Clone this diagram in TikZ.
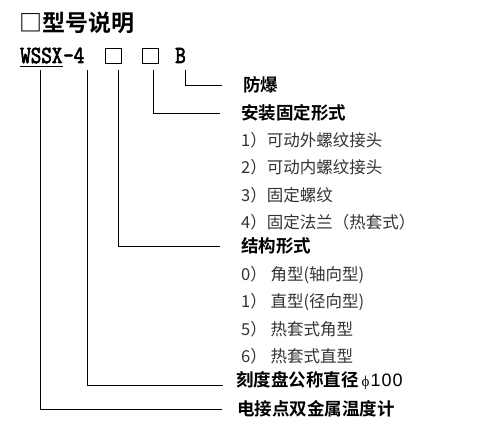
\documentclass[tikz,border=0pt]{standalone}
\usepackage{fontspec}
\newfontfamily\cjk{Noto Sans CJK SC}
\newfontfamily\cjkb{Noto Sans CJK SC Bold}
\newfontfamily\codefont[FakeBold=3]{Latin Modern Mono}
\newfontfamily\latfont{Liberation Sans}
\newfontfamily\phifont{Liberation Serif}
\begin{document}
\begin{tikzpicture}[x=1pt,y=-1pt,
  lbl/.style={anchor=west,inner sep=0pt,font=\cjkb\fontsize{17.5}{20}\selectfont,text=black},
  item/.style={anchor=west,inner sep=0pt,font=\cjk\fontsize{16.5}{20}\selectfont,text=black!80},
  code/.style={anchor=base west,inner sep=0pt,font=\codefont\fontsize{20.5}{22}\selectfont},
  codebox/.style={draw,line width=1pt,minimum width=16pt,minimum height=15pt,inner sep=0pt},
  conn/.style={line width=0.9pt}]
\useasboundingbox (0,0) rectangle (502,436);
% title
\node[anchor=west,inner sep=0pt,font=\cjkb\fontsize{23}{26}\selectfont] (title) at (19,23) {□型号说明};
% code line
\node[code] (wssx) at (20,63) {\scalebox{1}[1.2]{WSSX}};
\node[code] (four) at (63,63) {\scalebox{1}[1.2]{-4}};
\node[codebox] (boxA) at (113,55.5) {};
\node[codebox] (boxB) at (150,55.5) {};
\node[code] (bB) at (175,63) {\scalebox{1}[1.2]{B}};
\draw[conn] (wssx.south west |- 0,66) -- (wssx.south east |- 0,66);
% top points of connectors
\coordinate (t1) at (40,70);
\coordinate (t2) at (87,70);
\coordinate (t3) at (118,70);
\coordinate (t4) at (153,70);
\coordinate (t5) at (185,70);
% labels
\node[lbl] (fb) at (243,85) {防爆};
\node[lbl] (az) at (241,113) {安装固定形式};
\node[item] (a1) at (241,140) {1）可动外螺纹接头};
\node[item] (a2) at (241,167) {2）可动内螺纹接头};
\node[item] (a3) at (241,195) {3）固定螺纹};
\node[item] (a4) at (241,222) {4）固定法兰（热套式）};
\node[lbl] (jg) at (241,246) {结构形式};
\node[item] (b0) at (241,275) {0） 角型(轴向型)};
\node[item] (b1) at (241,302) {1） 直型(径向型)};
\node[item] (b5) at (241,329) {5） 热套式角型};
\node[item] (b6) at (241,356) {6） 热套式直型};
\node[lbl] (kd) at (236,381) {刻度盘公称直径\hspace{3pt}{\phifont\fontsize{15}{20}\selectfont ϕ}\hspace{1pt}{\latfont\fontsize{18}{20}\selectfont 1\hspace{1pt}0\hspace{1pt}0}};
\node[lbl] (dj) at (237,409) {电接点双金属温度计};
% connectors
\draw[conn] (t5) |- ([xshift=-21pt]fb.west);
\draw[conn] (t4) |- ([xshift=-21pt]az.west);
\draw[conn] (t3) |- ([xshift=-21pt]jg.west);
\draw[conn] (t2) |- ([xshift=-13pt,yshift=-4pt]kd.west);
\draw[conn] (t1) |- ([xshift=-15pt]dj.west);
\end{tikzpicture}
\end{document}
